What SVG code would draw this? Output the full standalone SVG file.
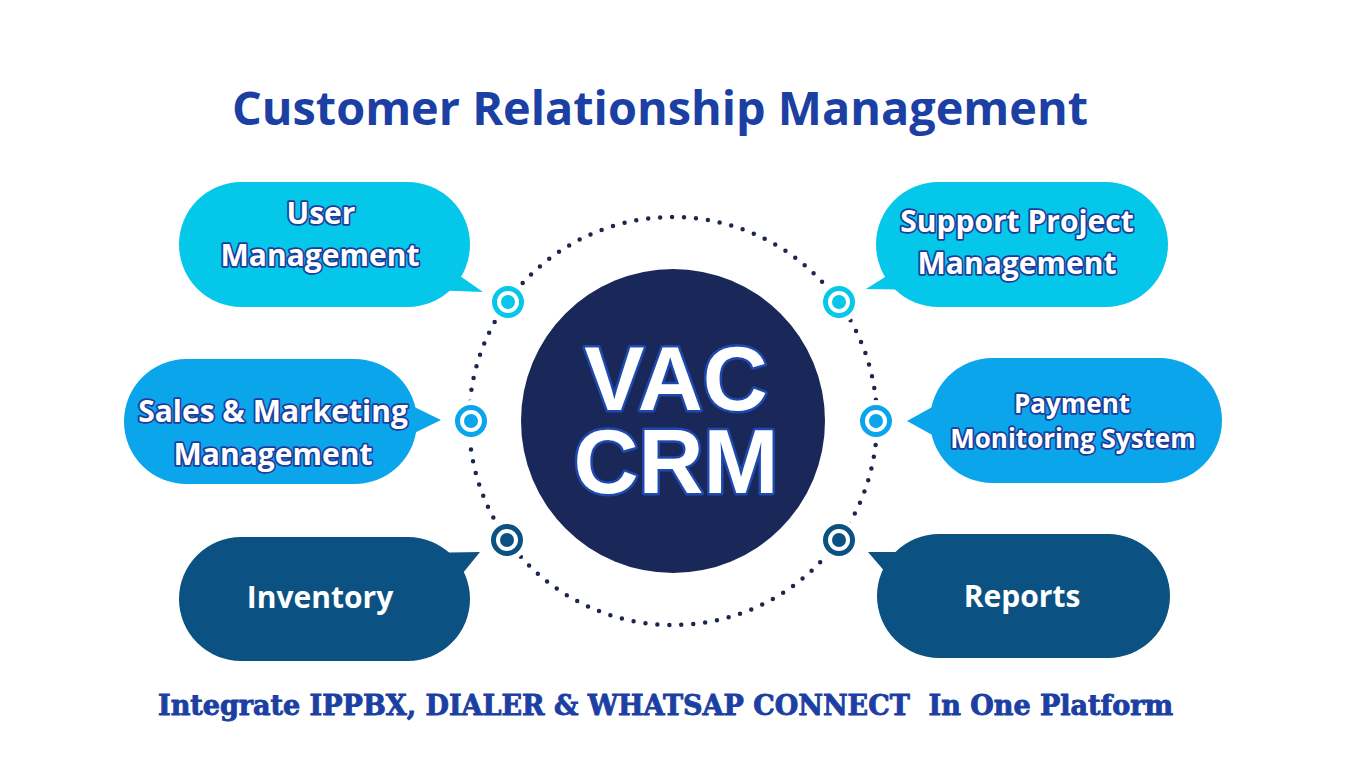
<svg xmlns="http://www.w3.org/2000/svg" width="1366" height="768" viewBox="0 0 1366 768">
<style>
.title{font-family:"Open Sans","Liberation Sans",sans-serif;font-weight:700;fill:#1B3FA3}
.foot{font-family:"DejaVu Serif Condensed","DejaVu Serif","Liberation Serif",serif;font-weight:700;fill:#1B3FA3;stroke:#1B3FA3;stroke-width:0.8}
.lbl{font-family:"Open Sans","Liberation Sans",sans-serif;font-weight:700;fill:#fff;stroke:#1E3D9B;stroke-width:3.5;paint-order:stroke;stroke-linejoin:round;text-anchor:middle}
.plain{font-family:"Open Sans","Liberation Sans",sans-serif;font-weight:700;fill:#fff;text-anchor:middle}
.big{font-family:"Liberation Sans","Arial",sans-serif;font-weight:700;fill:#fff;stroke:#1E4AB0;stroke-width:5;paint-order:stroke;stroke-linejoin:round;text-anchor:middle}
.cyan{fill:#05C7E9}
.sky{fill:#0BA5EC}
.deep{fill:#0B5283}
.mask{fill:#fff}
</style>
<rect width="1366" height="768" fill="#fff"/>
<text class="title" x="232" y="125" font-size="46" textLength="856" lengthAdjust="spacingAndGlyphs">Customer Relationship Management</text>

<g id="connectors">
  <circle cx="673" cy="421" r="204" fill="none" stroke="#1B2550" stroke-width="4.5" stroke-linecap="round" stroke-dasharray="0 12"/>
  <circle class="mask" cx="508" cy="302" r="21"/>
  <circle class="mask" cx="839" cy="302" r="21"/>
  <circle class="mask" cx="471" cy="421" r="21"/>
  <circle class="mask" cx="876" cy="421" r="21"/>
  <circle class="mask" cx="507" cy="540" r="21"/>
  <circle class="mask" cx="839" cy="540" r="21"/>
</g>

<g id="center">
  <circle cx="673" cy="421" r="152" fill="#1A2859"/>
  <text class="big" font-size="90"><tspan x="676" y="410">VAC</tspan><tspan x="676" y="493">CRM</tspan></text>
</g>

<g id="user-management">
  <rect class="cyan" x="179" y="182" width="291" height="125" rx="62.5"/>
  <polygon class="cyan" points="430,255 483,292 430,290"/>
  <text class="lbl" x="321" y="224" font-size="30">User</text>
  <text class="lbl" x="320" y="266" font-size="30">Management</text>
</g>

<g id="support-project">
  <rect class="cyan" x="876" y="182" width="292" height="125" rx="62.5"/>
  <polygon class="cyan" points="920,255 866,289 925,290"/>
  <text class="lbl" x="1017" y="232" font-size="30">Support Project</text>
  <text class="lbl" x="1017" y="274" font-size="30">Management</text>
</g>

<g id="sales-marketing">
  <rect class="sky" x="124" y="359" width="293" height="125" rx="62.5"/>
  <polygon class="sky" points="400,400 441,420 400,440"/>
  <text class="lbl" x="273" y="422" font-size="30">Sales &amp; Marketing</text>
  <text class="lbl" x="273" y="465" font-size="30">Management</text>
</g>

<g id="payment-monitoring">
  <rect class="sky" x="930" y="358" width="292" height="125" rx="62.5"/>
  <polygon class="sky" points="945,400 907,421 945,442"/>
  <text class="lbl" x="1072" y="413" font-size="26">Payment</text>
  <text class="lbl" x="1073" y="448" font-size="26">Monitoring System</text>
</g>

<g id="inventory">
  <rect class="deep" x="179" y="537" width="291" height="124" rx="62"/>
  <polygon class="deep" points="420,553 480,552 445,595"/>
  <text class="plain" x="320" y="608" font-size="30">Inventory</text>
</g>

<g id="reports">
  <rect class="deep" x="877" y="534" width="293" height="124" rx="62"/>
  <polygon class="deep" points="868,552 925,552 905,595"/>
  <text class="plain" x="1022" y="607" font-size="30">Reports</text>
</g>

<g id="markers">
  <g fill="#fff" stroke="#05C7E9" stroke-width="5">
    <circle cx="508" cy="302" r="13.5"/>
    <circle cx="839" cy="302" r="13.5"/>
  </g>
  <circle cx="508" cy="302" r="7" fill="#05C7E9"/>
  <circle cx="839" cy="302" r="7" fill="#05C7E9"/>
  <g fill="#fff" stroke="#0BA5EC" stroke-width="5">
    <circle cx="471" cy="421" r="13.5"/>
    <circle cx="876" cy="421" r="13.5"/>
  </g>
  <circle cx="471" cy="421" r="7" fill="#0BA5EC"/>
  <circle cx="876" cy="421" r="7" fill="#0BA5EC"/>
  <g fill="#fff" stroke="#0B5283" stroke-width="5">
    <circle cx="507" cy="540" r="13.5"/>
    <circle cx="839" cy="540" r="13.5"/>
  </g>
  <circle cx="507" cy="540" r="7" fill="#0B5283"/>
  <circle cx="839" cy="540" r="7" fill="#0B5283"/>
</g>

<text class="foot" x="158" y="715" font-size="27" textLength="1015" lengthAdjust="spacingAndGlyphs" xml:space="preserve">Integrate IPPBX, DIALER &amp; WHATSAP CONNECT  In One Platform</text>
</svg>
